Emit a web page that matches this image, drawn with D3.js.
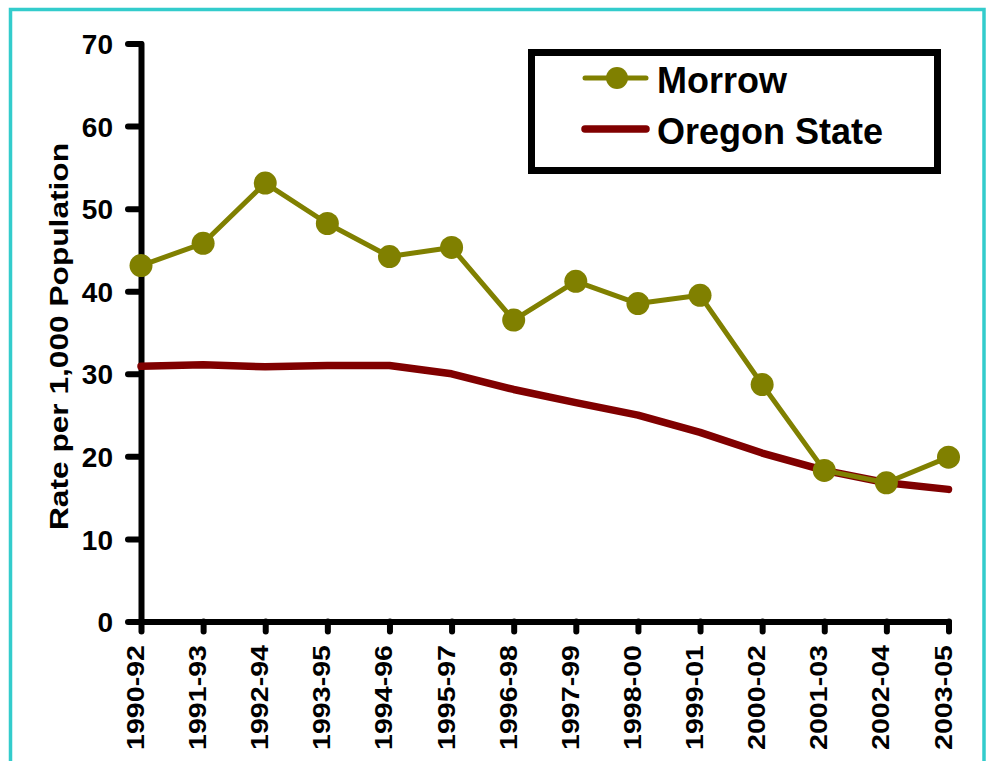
<!DOCTYPE html>
<html>
<head>
<meta charset="utf-8">
<script src="https://cdn.jsdelivr.net/npm/d3@7"></script>
<style>
  html, body { margin: 0; padding: 0; background: #fff; }
  svg { display: block; font-family: "Liberation Sans", Arial, sans-serif; font-weight: bold; }
</style>
</head>
<body>
<div id="main"></div>
<script>
(function() {
  const periods = ["1990-92", "1991-93", "1992-94", "1993-95", "1994-96", "1995-97", "1996-98",
    "1997-99", "1998-00", "1999-01", "2000-02", "2001-03", "2002-04", "2003-05"];
  const morrow = [43.1, 45.8, 53.1, 48.2, 44.2, 45.3, 36.5, 41.2, 38.5, 39.5, 28.7, 18.3, 16.8, 19.9];
  const oregon = [30.9, 31.1, 30.85, 31.0, 31.0, 30.0, 28.1, 26.5, 25.0, 22.9, 20.4, 18.3, 16.8, 16.0];
  const yTicks = [0, 10, 20, 30, 40, 50, 60, 70];

  const width = 990, height = 761;

  const svg = d3.select("#main")
    .append("svg")
    .attr("width", width)
    .attr("height", height);

  // teal frame
  svg.append("rect")
    .attr("x", 10.5).attr("y", 9.5)
    .attr("width", 973.5).attr("height", 770)
    .attr("fill", "none")
    .attr("stroke", "#33cccc")
    .attr("stroke-width", 3.5);

  const x = d3.scalePoint().domain(periods).range([141, 948.5]);
  const y = d3.scaleLinear().domain([0, 70]).range([621.5, 43.5]);

  // y axis
  const yAxis = svg.append("g")
    .attr("transform", "translate(141,0)")
    .call(d3.axisLeft(y).tickValues(yTicks).tickSize(13).tickSizeOuter(0).tickPadding(15));
  yAxis.selectAll("path, line")
    .attr("stroke", "#000")
    .attr("stroke-width", 6)
    .attr("stroke-linecap", "round");
  yAxis.selectAll("text")
    .attr("fill", "#000")
    .attr("font-size", 28)
    .attr("font-family", "'Liberation Sans', Arial, sans-serif")
    .attr("font-weight", "bold")
    .attr("dy", "0.36em");

  // x axis
  const xAxis = svg.append("g")
    .attr("transform", "translate(0,621.5)")
    .call(d3.axisBottom(x).tickSize(10).tickSizeOuter(0).tickFormat(""));
  xAxis.selectAll("path, line")
    .attr("stroke", "#000")
    .attr("stroke-width", 6)
    .attr("stroke-linecap", "round");

  svg.append("g")
    .selectAll("text")
    .data(periods)
    .join("text")
    .attr("transform", d => `translate(${x(d) + 3},645) rotate(-90)`)
    .attr("text-anchor", "end")
    .attr("font-size", 23)
    .attr("textLength", 105)
    .attr("lengthAdjust", "spacingAndGlyphs")
    .text(d => d);

  // y title
  svg.append("text")
    .attr("transform", "translate(68,336.5) rotate(-90)")
    .attr("text-anchor", "middle")
    .attr("font-size", 25)
    .attr("textLength", 387)
    .attr("lengthAdjust", "spacingAndGlyphs")
    .text("Rate per 1,000 Population");

  // series
  const line = d3.line()
    .x((d, i) => x(periods[i]))
    .y(d => y(d));

  svg.append("path")
    .datum(oregon)
    .attr("d", line)
    .attr("fill", "none")
    .attr("stroke", "#800000")
    .attr("stroke-width", 7.5)
    .attr("stroke-linecap", "round")
    .attr("stroke-linejoin", "round");

  svg.append("path")
    .datum(morrow)
    .attr("d", line)
    .attr("fill", "none")
    .attr("stroke", "#808000")
    .attr("stroke-width", 5)
    .attr("stroke-linejoin", "round");

  svg.append("g")
    .selectAll("circle")
    .data(morrow)
    .join("circle")
    .attr("cx", (d, i) => x(periods[i]))
    .attr("cy", d => y(d))
    .attr("r", 11.5)
    .attr("fill", "#808000");

  // legend
  const legend = svg.append("g");
  legend.append("rect")
    .attr("x", 531.5).attr("y", 52.5)
    .attr("width", 406).attr("height", 118)
    .attr("fill", "#fff")
    .attr("stroke", "#000")
    .attr("stroke-width", 7);

  legend.append("line")
    .attr("x1", 585).attr("x2", 646).attr("y1", 78).attr("y2", 78)
    .attr("stroke", "#808000").attr("stroke-width", 5).attr("stroke-linecap", "round");
  legend.append("circle")
    .attr("cx", 617).attr("cy", 78).attr("r", 11)
    .attr("fill", "#808000");
  legend.append("text")
    .attr("x", 657).attr("y", 93)
    .attr("font-size", 36)
    .text("Morrow");

  legend.append("line")
    .attr("x1", 585).attr("x2", 646).attr("y1", 129).attr("y2", 129)
    .attr("stroke", "#800000").attr("stroke-width", 7.5).attr("stroke-linecap", "round");
  legend.append("text")
    .attr("x", 657).attr("y", 144)
    .attr("font-size", 36)
    .text("Oregon State");
})();
</script>
</body>
</html>
